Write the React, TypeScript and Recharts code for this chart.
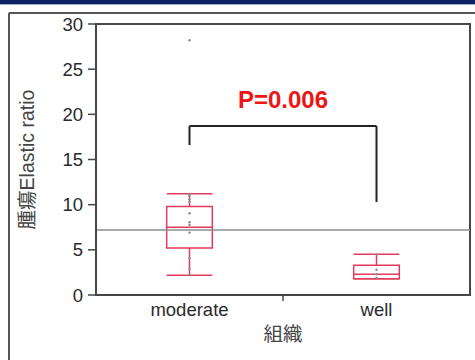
import React from 'react';
import {
  ComposedChart,
  XAxis,
  YAxis,
  Scatter,
  ReferenceArea,
  ReferenceLine,
} from 'recharts';

// ---- data ----
const categories = ['moderate', 'well'];
const whiskerLow = [2.2, 1.8];
const quartile1 = [5.2, 1.8];
const medians = [7.5, 2.3];
const quartile3 = [9.8, 3.3];
const whiskerHigh = [11.2, 4.5];
const moderatePoints = [11.2, 11.0, 10.6, 10.3, 9.05, 8.05, 7.75, 6.9, 4.1, 2.9, 2.2, 28.2];
const wellPoints = [4.5, 2.8, 2.3, 1.9];
const overallMean = 7.2;
const yTicks = [0, 5, 10, 15, 20, 25, 30];
const pValueText = 'P=0.006';
const bracketTop = 18.7;
const bracketLeftEnd = 16.6;
const bracketRightEnd = 10.3;
const yLabel = '腫瘍Elastic ratio';
const xLabel = '組織';

// ---- styles ----
const FONT = "'Liberation Sans', Arial, 'Noto Sans CJK JP', sans-serif";
const BOX_COLOR = '#e43a5c';
const AXIS_COLOR = '#474747';
const TEXT_COLOR = '#2a2a2a';
const HALF = 0.122;

const center = (i: number) => i + 0.5;

const scatterData = [
  ...moderatePoints.map((v) => ({ x: center(0), y: v })),
  ...wellPoints.map((v) => ({ x: center(1), y: v })),
];

const XTick = (props: any) => {
  const { x, y, payload } = props;
  if (payload.value === 1) {
    return <line x1={x} y1={y - 8} x2={x} y2={y - 2} stroke={AXIS_COLOR} strokeWidth={1.5} />;
  }
  const idx = Math.floor(payload.value);
  return (
    <text x={x} y={y} dy="0.71em" textAnchor="middle" fontSize={18.5} fill={TEXT_COLOR} fontFamily={FONT}>
      {categories[idx]}
    </text>
  );
};

const Dot = (props: any) => {
  const { cx, cy } = props;
  return <circle cx={cx} cy={cy} r={1.2} fill="#8a8a8a" />;
};

export default function App() {
  return (
    <div
      style={{
        position: 'fixed',
        left: 0,
        top: 0,
        width: 475,
        height: 360,
        overflow: 'hidden',
        background: '#fff',
        fontFamily: FONT,
      }}
    >
      <div style={{ position: 'absolute', left: 0, top: 0, width: 475, height: 4, background: '#0c2262' }} />
      <div style={{ position: 'absolute', left: 0, top: 4, width: 475, height: 1, background: '#9fb2d6' }} />
      <div
        style={{
          position: 'absolute',
          left: 8,
          top: 12,
          width: 600,
          height: 500,
          border: '2px solid #555',
          borderRadius: 2,
        }}
      />
      <div style={{ position: 'absolute', left: 0, top: 0 }}>
        <ComposedChart width={475} height={360} margin={{ top: 24, right: 5, bottom: 0, left: 0 }}>
          <XAxis
            type="number"
            dataKey="x"
            domain={[0, 2]}
            ticks={[0.5, 1, 1.5]}
            allowDataOverflow
            height={65}
            tickSize={6}
            tickMargin={2}
            tickLine={false}
            axisLine={{ stroke: AXIS_COLOR, strokeWidth: 2 }}
            tick={<XTick />}
            label={{
              content: (p: any) => {
                const vb = p.viewBox;
                return (
                  <text
                    x={vb.x + vb.width / 2}
                    y={341}
                    textAnchor="middle"
                    fontSize={19.5}
                    fill="#444"
                    fontFamily={FONT}
                  >
                    {xLabel}
                  </text>
                );
              },
            }}
          />
          <YAxis
            type="number"
            dataKey="y"
            domain={[0, 30]}
            ticks={yTicks}
            width={96}
            tickSize={8}
            tickMargin={5}
            axisLine={{ stroke: AXIS_COLOR, strokeWidth: 2 }}
            tickLine={{ stroke: AXIS_COLOR, strokeWidth: 1.5 }}
            tick={{ fontSize: 18.5, fill: TEXT_COLOR, fontFamily: FONT }}
            label={{
              content: (p: any) => {
                const vb = p.viewBox;
                const cx = vb.x + 27;
                const cy = vb.y + vb.height / 2;
                return (
                  <text
                    x={cx}
                    y={cy}
                    transform={`rotate(-90, ${cx}, ${cy})`}
                    textAnchor="middle"
                    dominantBaseline="central"
                    fontSize={19.5}
                    fill="#444"
                    fontFamily={FONT}
                  >
                    {yLabel}
                  </text>
                );
              },
            }}
          />
          <ReferenceArea
            x1={0}
            x2={2}
            y1={0}
            y2={30}
            fill="none"
            stroke={AXIS_COLOR}
            strokeWidth={2}
            ifOverflow="visible"
          />
          {categories.map((c, i) => (
            <ReferenceArea
              key={'box' + c}
              x1={center(i) - HALF}
              x2={center(i) + HALF}
              y1={quartile1[i]}
              y2={quartile3[i]}
              fill="none"
              fillOpacity={0}
              stroke={BOX_COLOR}
              strokeWidth={1.5}
            />
          ))}
          {categories.map((c, i) => (
            <ReferenceLine
              key={'med' + c}
              segment={[
                { x: center(i) - HALF, y: medians[i] },
                { x: center(i) + HALF, y: medians[i] },
              ]}
              stroke={BOX_COLOR}
              strokeWidth={1.5}
            />
          ))}
          {categories.map((c, i) => (
            <ReferenceLine
              key={'wh' + c}
              segment={[
                { x: center(i) - HALF, y: whiskerHigh[i] },
                { x: center(i) + HALF, y: whiskerHigh[i] },
              ]}
              stroke={BOX_COLOR}
              strokeWidth={1.5}
            />
          ))}
          {categories.map((c, i) => (
            <ReferenceLine
              key={'wl' + c}
              segment={[
                { x: center(i) - HALF, y: whiskerLow[i] },
                { x: center(i) + HALF, y: whiskerLow[i] },
              ]}
              stroke={BOX_COLOR}
              strokeWidth={1.5}
            />
          ))}
          {categories.map((c, i) => (
            <ReferenceLine
              key={'vu' + c}
              segment={[
                { x: center(i), y: quartile3[i] },
                { x: center(i), y: whiskerHigh[i] },
              ]}
              stroke={BOX_COLOR}
              strokeWidth={1.5}
            />
          ))}
          {categories.map((c, i) => (
            <ReferenceLine
              key={'vl' + c}
              segment={[
                { x: center(i), y: whiskerLow[i] },
                { x: center(i), y: quartile1[i] },
              ]}
              stroke={BOX_COLOR}
              strokeWidth={1.5}
            />
          ))}
          <ReferenceLine y={overallMean} stroke="#8e8e8e" strokeWidth={1.5} />
          <ReferenceLine
            segment={[
              { x: center(0), y: bracketTop },
              { x: center(1), y: bracketTop },
            ]}
            stroke="#222"
            strokeWidth={2}
            label={{
              content: (p: any) => {
                const vb = p.viewBox || {};
                const x = (vb.x ?? 0) + (vb.width ?? 0) / 2;
                const y = vb.y ?? 0;
                return (
                  <text
                    x={x}
                    y={y - 18}
                    textAnchor="middle"
                    fontSize={24}
                    fontWeight="bold"
                    fill="#ee1515"
                    fontFamily={FONT}
                  >
                    {pValueText}
                  </text>
                );
              },
            }}
          />
          <ReferenceLine
            segment={[
              { x: center(0), y: bracketLeftEnd },
              { x: center(0), y: bracketTop },
            ]}
            stroke="#222"
            strokeWidth={2}
          />
          <ReferenceLine
            segment={[
              { x: center(1), y: bracketRightEnd },
              { x: center(1), y: bracketTop },
            ]}
            stroke="#222"
            strokeWidth={2}
          />
          <Scatter data={scatterData} dataKey="y" shape={<Dot />} isAnimationActive={false} />
        </ComposedChart>
      </div>
    </div>
  );
}
